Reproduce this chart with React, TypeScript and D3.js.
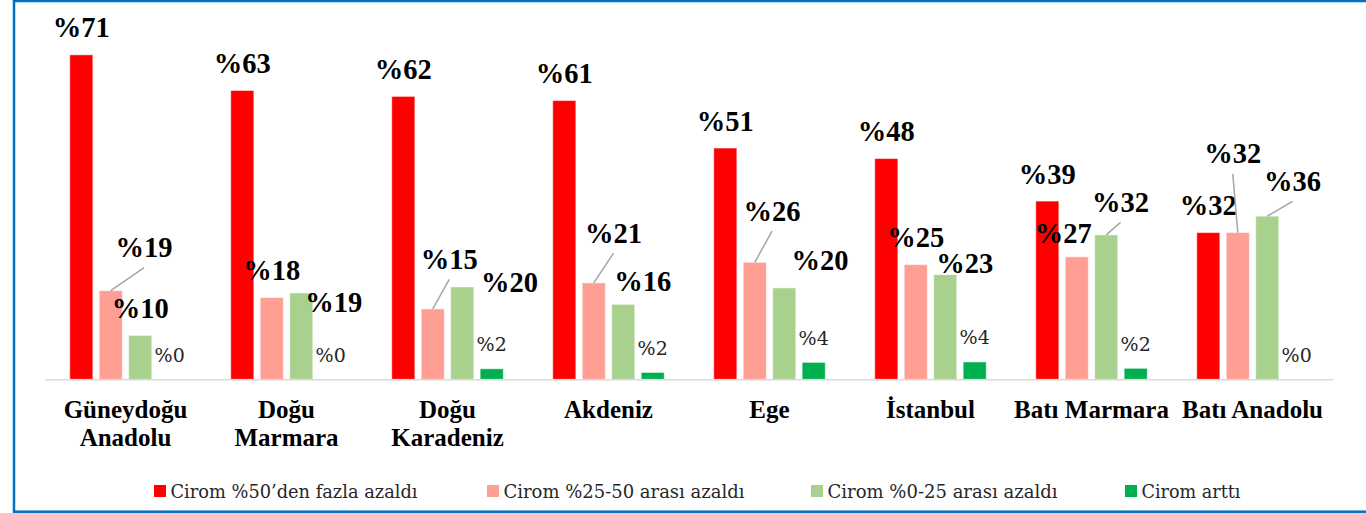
import React from "react";
import * as d3 from "d3";

const categories = [
  ["Güneydoğu", "Anadolu"],
  ["Doğu", "Marmara"],
  ["Doğu", "Karadeniz"],
  ["Akdeniz"],
  ["Ege"],
  ["İstanbul"],
  ["Batı Marmara"],
  ["Batı Anadolu"],
];

const seriesNames = [
  "Cirom %50’den fazla azaldı",
  "Cirom %25-50 arası azaldı",
  "Cirom %0-25 arası azaldı",
  "Cirom arttı",
];

const over50 = [71.0, 63.2, 61.9, 61.0, 50.6, 48.3, 39.0, 32.1];
const between25and50 = [19.4, 17.9, 15.4, 21.1, 25.6, 25.1, 26.8, 32.1];
const between0and25 = [9.6, 18.9, 20.2, 16.4, 20.0, 22.9, 31.6, 35.7];
const increased = [0, 0, 2.3, 1.5, 3.7, 3.8, 2.4, 0];

const seriesValues = [over50, between25and50, between0and25, increased];
const colors = ["#FF0000", "#FF9F94", "#A9D18E", "#00B050"];

// Label displacement (dx, dy in px from default position) and leader flag, per series/category
const labelMoves: [number, number, boolean][][] = [
  [[0, 0, false], [0, 0, false], [0, 0, false], [0, 0, false], [0, 0, false], [0, 0, false], [0, 0, false], [0, 0, false]],
  [[33.3, -15.9, true], [0, 0, false], [16.5, -22.5, true], [19.8, -22.8, true], [17.2, -24.1, true], [0, 0, false], [-13.5, 3.5, false], [-5, -51.9, true]],
  [[0, 0, false], [32.6, 36.2, false], [47.3, 22.2, false], [19.6, 3.9, false], [35.8, -0.5, false], [19.6, 15.5, false], [14.3, -5.5, true], [25.3, -7.8, true]],
  [[0, 0, false], [0, 0, false], [0, 0, false], [0, 0, false], [0, 0, false], [0, 0, false], [0, 0, false], [0, 0, false]],
];

const legendX = [154, 487, 811, 1125];
const legendTextWidth = [247, 241, 230, 99];

const W = 1366;
const H = 513;
const FONT = "'Liberation Serif', 'Times New Roman', serif";
const FONT_REG = "'DejaVu Serif', 'Liberation Serif', serif";

export default function App() {
  const plotLeft = 45;
  const plotRight = 1333;
  const baseY = 379.3;
  const y = d3.scaleLinear().domain([0, 80]).range([baseY, 13.7]);
  const x0 = d3
    .scaleBand<number>()
    .domain(d3.range(categories.length))
    .range([plotLeft, plotRight])
    .padding(0);
  const x1 = d3
    .scaleBand<number>()
    .domain(d3.range(seriesNames.length))
    .range([0, x0.bandwidth()])
    .paddingInner(0.216)
    .paddingOuter(0.84);

  const bars: React.ReactNode[] = [];
  const labels: React.ReactNode[] = [];
  seriesValues.forEach((vals, s) => {
    vals.forEach((v, c) => {
      const bx = (x0(c) as number) + (x1(s) as number);
      const bw = x1.bandwidth();
      const top = y(v);
      if (v > 0) {
        bars.push(
          <rect
            key={`b${s}-${c}`}
            x={bx}
            y={top}
            width={bw}
            height={baseY - top}
            fill={colors[s]}
            stroke="#ffffff"
            strokeOpacity={0.5}
            strokeWidth={1}
          />
        );
      }
      const [dx, dy, leader] = labelMoves[s][c];
      const cx = bx + bw / 2;
      const lx = cx + dx;
      const ly = top - 17.5 + dy;
      const small = s === 3;
      if (leader) {
        labels.push(
          <line
            key={`l${s}-${c}`}
            x1={lx}
            y1={ly + 10.5}
            x2={cx}
            y2={top}
            stroke="#A6A6A6"
            strokeWidth={1.5}
          />
        );
      }
      labels.push(
        <text
          key={`t${s}-${c}`}
          x={lx}
          y={ly}
          textAnchor="middle"
          fontFamily={small ? FONT_REG : FONT}
          fontWeight={small ? "normal" : "bold"}
          fontSize={small ? 19 : 28.5}
          fill={small ? "#262626" : "#000"}
        >
          {"%" + Math.round(v)}
        </text>
      );
    });
  });

  return (
    <svg
      width={W}
      height={H}
      style={{ position: "absolute", left: 0, top: 0, background: "#fff" }}
    >
      <rect x={0} y={0} width={W} height={H} fill="#fff" />
      <rect
        x={14}
        y={1}
        width={W + 20}
        height={510.7}
        fill="none"
        stroke="#0070C0"
        strokeWidth={2.5}
      />
      {bars}
      <line
        x1={plotLeft}
        x2={plotRight}
        y1={baseY + 0.5}
        y2={baseY + 0.5}
        stroke="#D9D9D9"
        strokeWidth={1.5}
      />
      {labels}
      {categories.map((lines, c) => (
        <text
          key={`c${c}`}
          x={(x0(c) as number) + x0.bandwidth() / 2}
          y={418.3}
          textAnchor="middle"
          fontFamily={FONT}
          fontWeight="bold"
          fontSize={25}
          fill="#000"
        >
          {lines.map((ln, i) => (
            <tspan
              key={i}
              x={(x0(c) as number) + x0.bandwidth() / 2}
              dy={i === 0 ? 0 : 27.4}
            >
              {ln}
            </tspan>
          ))}
        </text>
      ))}
      {seriesNames.map((name, s) => (
        <g key={`lg${s}`} transform={`translate(${legendX[s]},0)`}>
          <rect x={0} y={485} width={12} height={12} fill={colors[s]} />
          <text
            x={16.5}
            y={497.7}
            fontFamily={FONT_REG}
            fontSize={18.5}
            textLength={legendTextWidth[s]}
            lengthAdjust="spacingAndGlyphs"
            fill="#262626"
          >
            {name}
          </text>
        </g>
      ))}
    </svg>
  );
}
